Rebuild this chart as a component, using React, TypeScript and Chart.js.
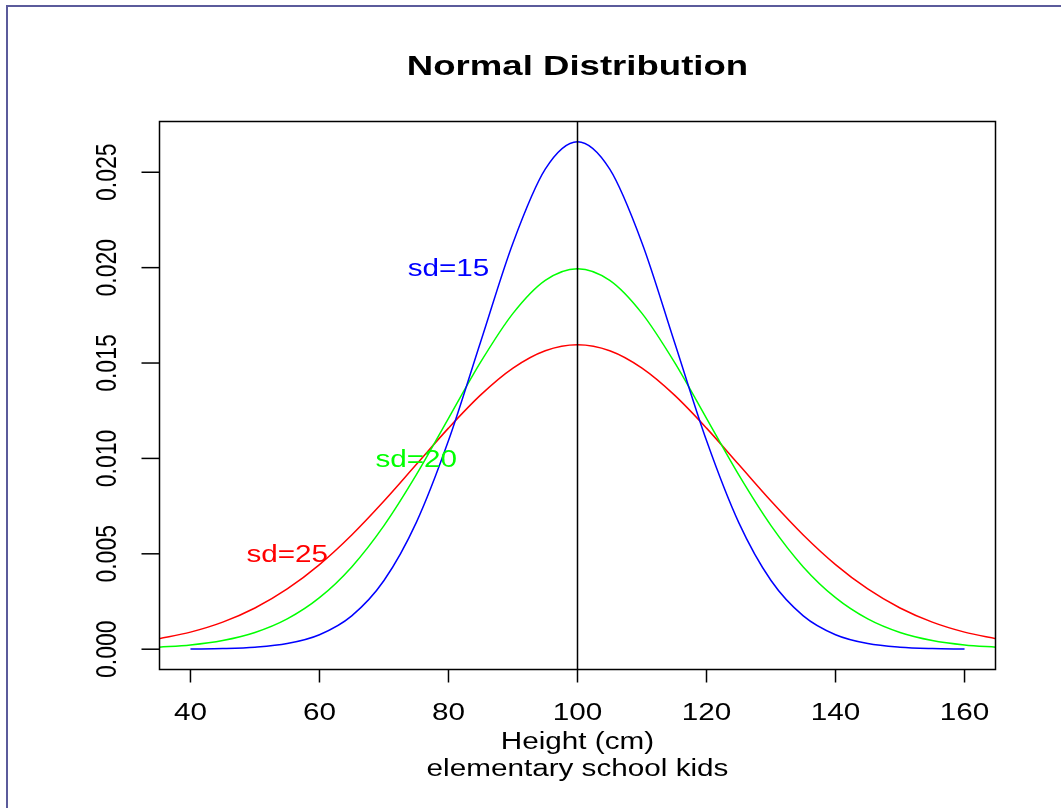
import { useEffect, useRef } from "react";
import { Chart, registerables } from "chart.js";

Chart.register(...registerables);

// ---- data ----
const heightsWide = [35, 40, 45, 50, 55, 60, 65, 70, 75, 80, 85, 90, 95, 100, 105, 110, 115, 120, 125, 130, 135, 140, 145, 150, 155, 160, 165];
const heightsNarrow = [40, 45, 50, 55, 60, 65, 70, 75, 80, 85, 90, 95, 100, 105, 110, 115, 120, 125, 130, 135, 140, 145, 150, 155, 160];

const densitySd15 = [0.0000089, 0.000032, 0.000103, 0.000295, 0.00076, 0.001748, 0.003599, 0.006632, 0.010934, 0.016131, 0.021297, 0.025159, 0.026596, 0.025159, 0.021297, 0.016131, 0.010934, 0.006632, 0.003599, 0.001748, 0.00076, 0.000295, 0.000103, 0.000032, 0.0000089];
const densitySd20 = [0.000101, 0.000222, 0.000455, 0.000876, 0.001587, 0.0027, 0.004314, 0.006476, 0.009132, 0.012099, 0.015057, 0.017603, 0.019333, 0.019947, 0.019333, 0.017603, 0.015057, 0.012099, 0.009132, 0.006476, 0.004314, 0.0027, 0.001587, 0.000876, 0.000455, 0.000222, 0.000101];
const densitySd25 = [0.000543, 0.000896, 0.001419, 0.00216, 0.003158, 0.004437, 0.005989, 0.007768, 0.009679, 0.011588, 0.013329, 0.014731, 0.015642, 0.015958, 0.015642, 0.014731, 0.013329, 0.011588, 0.009679, 0.007768, 0.005989, 0.004437, 0.003158, 0.00216, 0.001419, 0.000896, 0.000543];

const xTicks = [40, 60, 80, 100, 120, 140, 160];
const yTicks = [0, 0.005, 0.01, 0.015, 0.02, 0.025];
const yTickLabels = ["0.000", "0.005", "0.010", "0.015", "0.020", "0.025"];

const labelTexts = ["sd=15", "sd=20", "sd=25"];
const labelX = [80, 75, 55];
const labelY = [0.02, 0.01, 0.005];
const seriesColors = ["#0000ff", "#00ff00", "#ff0000"];

const titleText = "Normal Distribution";
const xTitle = "Height (cm)";
const subTitle = "elementary school kids";
const meanLine = 100;

const FONT = '"Liberation Sans", Arial, Helvetica, sans-serif';
const SX = 1.29;

function drawText(
  ctx: CanvasRenderingContext2D,
  text: string,
  x: number,
  y: number,
  font: string,
  color: string,
  sx: number,
  rotate = false
) {
  ctx.save();
  ctx.translate(x, y);
  ctx.scale(sx, 1);
  if (rotate) ctx.rotate(-Math.PI / 2);
  ctx.font = font;
  ctx.fillStyle = color;
  ctx.textAlign = "center";
  ctx.textBaseline = "alphabetic";
  ctx.fillText(text, 0, 0);
  ctx.restore();
}

const decorPlugin = {
  id: "rDecor",
  beforeDraw(chart: any) {
    const ctx = chart.ctx as CanvasRenderingContext2D;
    ctx.save();
    ctx.fillStyle = "#ffffff";
    ctx.fillRect(0, 0, chart.width, chart.height);
    ctx.fillStyle = "#5b5b9b";
    ctx.fillRect(6, 5, chart.width - 6, 2);
    ctx.fillRect(6, 5, 2, chart.height - 5);
    ctx.restore();
  },
  afterDatasetsDraw(chart: any) {
    const ctx = chart.ctx as CanvasRenderingContext2D;
    const xs = chart.scales.x;
    const ys = chart.scales.y;
    const a = chart.chartArea;
    ctx.save();
    // mean line
    ctx.strokeStyle = "#000";
    ctx.lineWidth = 1.5;
    const mx = xs.getPixelForValue(meanLine);
    ctx.beginPath();
    ctx.moveTo(mx, a.top);
    ctx.lineTo(mx, a.bottom);
    ctx.stroke();
    // box
    ctx.strokeRect(a.left, a.top, a.right - a.left, a.bottom - a.top);
    // x ticks
    const tickFont = `23px ${FONT}`;
    xTicks.forEach((v) => {
      const px = xs.getPixelForValue(v);
      ctx.beginPath();
      ctx.moveTo(px, a.bottom);
      ctx.lineTo(px, a.bottom + 13);
      ctx.stroke();
      drawText(ctx, String(v), px, 720, tickFont, "#000", SX);
    });
    // y ticks
    yTicks.forEach((v, i) => {
      const py = ys.getPixelForValue(v);
      ctx.beginPath();
      ctx.moveTo(a.left, py);
      ctx.lineTo(a.left - 18, py);
      ctx.stroke();
      drawText(ctx, yTickLabels[i], 115.5, py, tickFont, "#000", SX, true);
    });
    // titles
    const cx = (a.left + a.right) / 2;
    drawText(ctx, titleText, cx, 75, `bold 27.5px ${FONT}`, "#000", 1.33);
    drawText(ctx, xTitle, cx, 749, tickFont, "#000", SX);
    drawText(ctx, subTitle, cx, 776, tickFont, "#000", SX);
    // curve labels
    labelTexts.forEach((t, i) => {
      const px = xs.getPixelForValue(labelX[i]);
      const py = ys.getPixelForValue(labelY[i]);
      drawText(ctx, t, px, py + 8.3, tickFont, seriesColors[i], SX);
    });
    ctx.restore();
  },
};

export default function App() {
  const ref = useRef<HTMLCanvasElement | null>(null);
  useEffect(() => {
    if (!ref.current) return;
    const toPts = (xsArr: number[], ysArr: number[]) => xsArr.map((x, i) => ({ x, y: ysArr[i] }));
    const chart = new Chart(ref.current, {
      type: "line",
      data: {
        datasets: [
          { label: "sd=15", data: toPts(heightsNarrow, densitySd15), borderColor: seriesColors[0] },
          { label: "sd=20", data: toPts(heightsWide, densitySd20), borderColor: seriesColors[1] },
          { label: "sd=25", data: toPts(heightsWide, densitySd25), borderColor: seriesColors[2] },
        ].map((d) => ({
          ...d,
          borderWidth: 1.5,
          pointRadius: 0,
          fill: false,
          cubicInterpolationMode: "monotone" as const,
          clip: 0,
        })),
      },
      options: {
        responsive: false,
        animation: false,
        devicePixelRatio: 1,
        layout: { padding: { left: 159.5, top: 121.5, right: 1061 - 995.5, bottom: 808 - 669.5 } },
        scales: {
          x: { type: "linear", min: 35.2, max: 164.8, display: false },
          y: { type: "linear", min: -0.001064, max: 0.02766, display: false },
        },
        plugins: { legend: { display: false }, tooltip: { enabled: false }, title: { display: false } },
        events: [],
      },
      plugins: [decorPlugin],
    });
    return () => chart.destroy();
  }, []);
  return (
    <div style={{ position: "absolute", left: 0, top: 0, width: 1061, height: 808 }}>
      <canvas ref={ref} width={1061} height={808} style={{ display: "block" }} />
    </div>
  );
}
